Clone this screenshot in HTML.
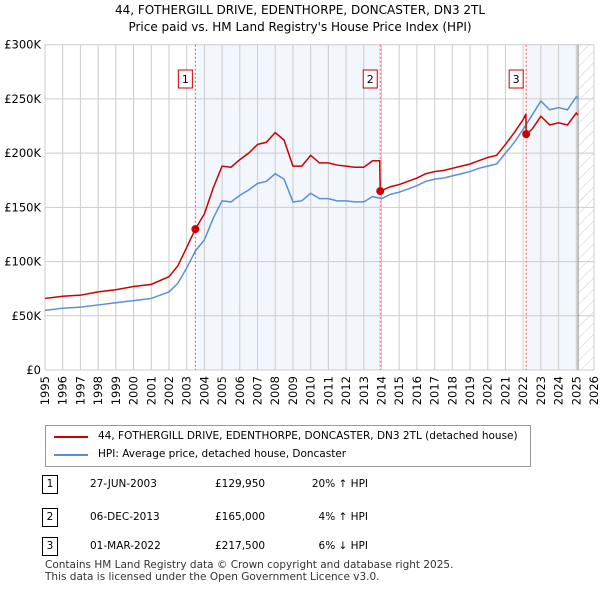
<!DOCTYPE html>
<html><head><meta charset="utf-8"><style>
body{margin:0;background:#fff;font-family:"DejaVu Sans","Liberation Sans",sans-serif;}
#wrap{position:relative;width:600px;height:590px;overflow:hidden;}
.t{position:absolute;font-size:11px;color:#000;white-space:nowrap;}
</style></head><body>
<div id="wrap">
<div class="t" style="left:0;width:600px;text-align:center;top:3px;font-size:12px">44, FOTHERGILL DRIVE, EDENTHORPE, DONCASTER, DN3 2TL</div>
<div class="t" style="left:0;width:600px;text-align:center;top:20px;font-size:12px">Price paid vs. HM Land Registry's House Price Index (HPI)</div>
<svg id="chart" width="600" height="420" style="position:absolute;left:0;top:0" font-family="DejaVu Sans, Liberation Sans, sans-serif"></svg>
<div style="position:absolute;left:45px;top:425px;width:484px;height:40px;border:1px solid #999;">
 <div><div style="position:absolute;left:8px;top:10px;width:34px;height:2px;background:#cc0000"></div><div class="t" style="left:52px;top:4px;font-size:10.5px">44, FOTHERGILL DRIVE, EDENTHORPE, DONCASTER, DN3 2TL (detached house)</div></div>
 <div><div style="position:absolute;left:8px;top:28px;width:34px;height:2px;background:#5b8fd4"></div><div class="t" style="left:52px;top:22px;font-size:10.5px">HPI: Average price, detached house, Doncaster</div></div>
</div>
<div id="rows"></div>
<div class="t" style="left:45px;top:559px;font-size:10.5px;color:#333;line-height:12px">Contains HM Land Registry data © Crown copyright and database right 2025.<br>This data is licensed under the Open Government Licence v3.0.</div>
</div>
<script>
const hpiYears=[1995,1996,1997,1998,1999,2000,2001,2002,2002.5,2003,2003.5,2004,2004.5,2005,2005.5,2006,2006.5,2007,2007.5,2008,2008.5,2009,2009.5,2010,2010.5,2011,2011.5,2012,2012.5,2013,2013.5,2014,2014.5,2015,2015.5,2016,2016.5,2017,2017.5,2018,2018.5,2019,2019.5,2020,2020.5,2021,2021.5,2022,2022.5,2023,2023.5,2024,2024.5,2025,2025.1];
const hpiValues=[55,57,58,60,62,64,66,72,80,94,110,120,140,156,155,161,166,172,174,181,176,155,156,163,158,158,156,156,155,155,160,158,162,164,167,170,174,176,177,179,181,183,186,188,190,200,210,222,235,248,240,242,240,252,250];
const priceYears=[1995,1996,1997,1998,1999,2000,2001,2002,2002.5,2003,2003.49,2004,2004.5,2005,2005.5,2006,2006.5,2007,2007.5,2008,2008.5,2009,2009.5,2010,2010.5,2011,2011.5,2012,2012.5,2013,2013.5,2013.9,2013.93,2014.5,2015,2015.5,2016,2016.5,2017,2017.5,2018,2018.5,2019,2019.5,2020,2020.5,2021,2021.5,2022,2022.15,2022.17,2022.5,2023,2023.5,2024,2024.5,2025,2025.1];
const priceValues=[66,68,69,72,74,77,79,86,96,113,130,144,168,188,187,194,200,208,210,219,212,188,188,198,191,191,189,188,187,187,193,193,165,169,171,174,177,181,183,184,186,188,190,193,196,198,208,219,231,236,217.5,222,234,226,228,226,237,235];
const saleLabels=["1","2","3"];
const saleYears=[2003.49,2013.93,2022.17];
const salePrices=[129.95,165,217.5];
const saleDates=["27-JUN-2003","06-DEC-2013","01-MAR-2022"];
const salePriceText=["£129,950","£165,000","£217,500"];
const saleHpiText=["20% ↑ HPI","4% ↑ HPI","6% ↓ HPI"];
const yTicks=[0,50,100,150,200,250,300];
const yTickLabels=["£0","£50K","£100K","£150K","£200K","£250K","£300K"];
const xTicks=[];for(let y=1995;y<=2026;y++)xTicks.push(y);

const X0=45,X1=594,Y0=370,Y1=44.7,dataEnd=2025.1;
const xs=y=>X0+(y-1995)/(2026-1995)*(X1-X0);
const ys=v=>Y0-v/300*(Y0-Y1);
const svg=document.getElementById('chart');const NS='http://www.w3.org/2000/svg';
function mk(tag,attrs,parent){const e=document.createElementNS(NS,tag);for(const k in attrs)e.setAttribute(k,attrs[k]);(parent||svg).appendChild(e);return e;}
const defs=mk('defs',{});
const pat=mk('pattern',{id:'hatch',width:8,height:8,patternUnits:'userSpaceOnUse',patternTransform:'rotate(45)'},defs);
mk('line',{x1:0,y1:0,x2:0,y2:8,stroke:'#ccc','stroke-width':1},pat);
let s=mk('rect',{x:xs(saleYears[0]),y:Y1,width:xs(saleYears[1])-xs(saleYears[0]),height:Y0-Y1,fill:'#eef3fc',opacity:0.75});

s=mk('rect',{x:xs(saleYears[2]),y:Y1,width:xs(dataEnd)-xs(saleYears[2]),height:Y0-Y1,fill:'#eef3fc',opacity:0.75});

s=mk('rect',{x:xs(dataEnd),y:Y1,width:X1-xs(dataEnd),height:Y0-Y1,fill:'url(#hatch)'});

xTicks.forEach(y=>{const l=mk('line',{x1:xs(y),x2:xs(y),y1:Y1,y2:Y0,stroke:'#ccc','stroke-width':1});

const t=mk('text',{x:0,y:0,'font-size':11.5,'text-anchor':'end',transform:`translate(${xs(y)+4},${Y0+6}) rotate(-90)`});t.textContent=y;
});
yTicks.forEach((v,i)=>{const l=mk('line',{x1:X0,x2:X1,y1:ys(v),y2:ys(v),stroke:'#ccc','stroke-width':1});

const t=mk('text',{x:X0-4,y:ys(v)+4,'font-size':11.5,'text-anchor':'end'});t.textContent=yTickLabels[i];
});
let ed=mk('line',{x1:xs(dataEnd),x2:xs(dataEnd),y1:Y1,y2:Y0,stroke:'#888','stroke-width':1});

saleYears.forEach((y,i)=>{const l=mk('line',{x1:xs(y),x2:xs(y),y1:Y1,y2:Y0,stroke:'#e55','stroke-width':1,'stroke-dasharray':'2,2'});

const b=mk('rect',{x:xs(y)-17,y:70,width:14,height:18,fill:'#fff',stroke:'#c00','stroke-width':1});

const t=mk('text',{x:xs(y)-10,y:83,'font-size':11,'text-anchor':'middle'});t.textContent=saleLabels[i];
});
let p=mk('polyline',{points:hpiYears.map((y,i)=>xs(y)+','+ys(hpiValues[i])).join(' '),fill:'none',stroke:'#5b8fd4','stroke-width':1.5});

p=mk('polyline',{points:priceYears.map((y,i)=>xs(y)+','+ys(priceValues[i])).join(' '),fill:'none',stroke:'#cc0000','stroke-width':1.5});

saleYears.forEach((y,i)=>{const c=mk('circle',{cx:xs(y),cy:ys(salePrices[i]),r:4,fill:'#cc0000'});
});
const rows=document.getElementById('rows');const rowY=[475,508,537];
saleLabels.forEach((lab,i)=>{const r=document.createElement('div');


r.style.cssText=`position:absolute;left:0;top:${rowY[i]}px;width:600px;height:20px;font-size:10.5px`;
r.innerHTML=`<div style="position:absolute;left:42px;top:0;width:14px;height:17px;border:1px solid #000;text-align:center;line-height:17px">${lab}</div>`+
`<div class="t" style="left:90px;top:3px;font-size:10.5px">${saleDates[i]}</div>`+
`<div class="t" style="left:215px;top:3px;font-size:10.5px">${salePriceText[i]}</div>`+
`<div class="t" style="left:270px;width:98px;text-align:right;top:3px;font-size:10.5px">${saleHpiText[i]}</div>`;
rows.appendChild(r);});
</script>
</body></html>
